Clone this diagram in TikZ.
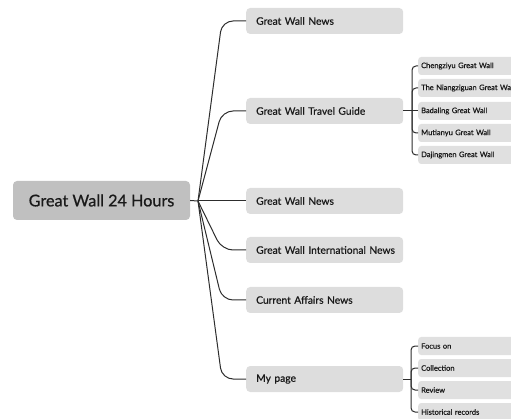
\documentclass[tikz,border=0pt]{standalone}
\usepackage{fontspec}
\setmainfont{Lato}[FakeBold=0.6]
\definecolor{rootgray}{RGB}{192,192,192}
\definecolor{childgray}{RGB}{221,221,221}
\definecolor{subgray}{RGB}{224,224,224}
\definecolor{txt}{RGB}{25,25,25}
\definecolor{linec}{RGB}{45,45,45}
\begin{document}
\begin{tikzpicture}[x=1pt,y=-1pt,
  rootbox/.style={fill=rootgray, rounded corners=4pt, minimum width=177pt, minimum height=39pt, inner sep=0pt, text=txt, font=\fontsize{16.2}{19}\selectfont},
  childbox/.style={fill=childgray, rounded corners=4pt, text width=137pt, inner xsep=10pt, inner ysep=0pt, minimum height=26pt, align=left, anchor=west, text=txt, font=\fontsize{10.3}{12}\selectfont},
  subbox/.style={fill=subgray, rounded corners=3pt, text width=112pt, inner xsep=3pt, inner ysep=0pt, minimum height=18pt, align=left, anchor=west, text=txt, font=\fontsize{7.5}{8.5}\selectfont},
  ln/.style={draw=linec, line width=1pt},
  conn/.style={ln, rounded corners=11pt},
  subconn/.style={ln, rounded corners=4pt}]
\useasboundingbox (0,0) rectangle (511,419);
\clip (0,0) rectangle (511,419);

\node[rootbox] (root) at (101.5,200.5) {Great Wall 24 Hours};
\coordinate (br) at (198,201);
\coordinate (kx) at (222,0);

\node[childbox] (c1) at (246,21) {Great Wall News};
\node[childbox] (c2) at (246,111) {Great Wall Travel Guide};
\node[childbox] (c3) at (246,201) {Great Wall News};
\node[childbox] (c4) at (246,250) {\mbox{Great Wall International News}};
\node[childbox] (c5) at (246,300) {Current Affairs News};
\node[childbox] (c6) at (246,379) {My page};

\draw[ln] (root.east) -- (br);
\foreach \c in {c1,c2,c4,c5,c6}{
  \draw[conn] (br) -- (kx |- \c.west) -- (\c.west);
}
\draw[ln] (br) -- (c3.west);

% travel guide subs
\node[subbox] (t1) at (418,66) {Chengziyu Great Wall};
\node[subbox] (t2) at (418,88) {\mbox{The Niangziguan Great Wall}};
\node[subbox] (t3) at (418,111) {Badaling Great Wall};
\node[subbox] (t4) at (418,133) {Mutianyu Great Wall};
\node[subbox] (t5) at (418,155) {Dajingmen Great Wall};
\coordinate (tb) at (412,111);
\draw[ln] (c2.east) -- (tb);
\foreach \s in {t1,t2,t4,t5}{
  \draw[subconn] (tb) -- (tb |- \s.west) -- (\s.west);
}
\draw[ln] (tb) -- (t3.west);

% my page subs
\node[subbox] (m1) at (418,346) {Focus on};
\node[subbox] (m2) at (418,368) {Collection};
\node[subbox] (m3) at (418,390) {Review};
\node[subbox] (m4) at (418,412) {Historical records};
\coordinate (mb) at (411,379);
\draw[ln] (c6.east) -- (mb);
\foreach \s in {m1,m2,m3,m4}{
  \draw[subconn] (mb) -- (mb |- \s.west) -- (\s.west);
}
\end{tikzpicture}
\end{document}
